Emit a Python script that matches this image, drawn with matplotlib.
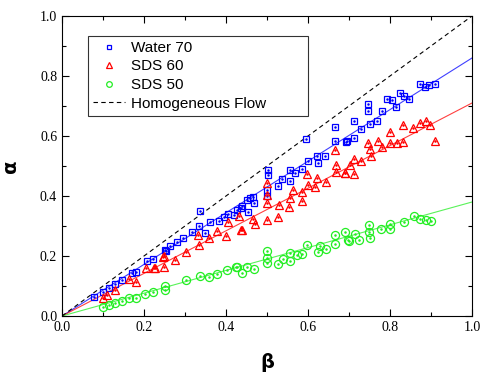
import numpy as np
import matplotlib
matplotlib.use("Agg")
import matplotlib.pyplot as plt
from matplotlib.ticker import MultipleLocator

# Water 70 (blue squares)
water_beta = [0.078, 0.10, 0.115, 0.129, 0.146, 0.171, 0.18, 0.207, 0.222, 0.254,
              0.251, 0.263, 0.28, 0.295, 0.317, 0.349, 0.334, 0.361, 0.337, 0.383,
              0.395, 0.405, 0.42, 0.427, 0.437, 0.459, 0.468, 0.454, 0.439, 0.451,
              0.466, 0.50, 0.50, 0.502, 0.502, 0.527, 0.537, 0.556, 0.556, 0.568,
              0.585, 0.60, 0.622, 0.624, 0.641, 0.595, 0.666, 0.666, 0.693, 0.695,
              0.712, 0.712, 0.729, 0.751, 0.746, 0.746, 0.768, 0.78, 0.793, 0.805,
              0.815, 0.825, 0.834, 0.846, 0.873, 0.885, 0.895, 0.91]
water_alpha = [0.063, 0.08, 0.093, 0.107, 0.12, 0.143, 0.147, 0.183, 0.19, 0.217,
               0.22, 0.233, 0.247, 0.26, 0.28, 0.277, 0.30, 0.313, 0.35, 0.317,
               0.33, 0.34, 0.337, 0.353, 0.36, 0.393, 0.377, 0.347, 0.367, 0.387,
               0.397, 0.40, 0.42, 0.47, 0.487, 0.433, 0.457, 0.45, 0.487, 0.477,
               0.49, 0.517, 0.533, 0.51, 0.533, 0.59, 0.63, 0.583, 0.58, 0.583,
               0.593, 0.65, 0.623, 0.64, 0.683, 0.707, 0.65, 0.683, 0.723, 0.72,
               0.697, 0.743, 0.733, 0.723, 0.773, 0.763, 0.77, 0.773]

# SDS 60 (red triangles)
sds60_beta = [0.10, 0.11, 0.129, 0.163, 0.18, 0.205, 0.225, 0.249, 0.227, 0.246,
              0.249, 0.276, 0.302, 0.332, 0.334, 0.359, 0.378, 0.40, 0.437, 0.405,
              0.432, 0.439, 0.466, 0.471, 0.50, 0.50, 0.50, 0.50, 0.527, 0.529,
              0.554, 0.556, 0.563, 0.585, 0.585, 0.60, 0.598, 0.617, 0.622, 0.644,
              0.666, 0.668, 0.668, 0.69, 0.69, 0.702, 0.712, 0.712, 0.729, 0.754,
              0.746, 0.751, 0.771, 0.78, 0.80, 0.817, 0.832, 0.80, 0.832, 0.856,
              0.873, 0.888, 0.898, 0.91]
sds60_alpha = [0.06, 0.07, 0.087, 0.123, 0.113, 0.16, 0.16, 0.163, 0.16, 0.197,
               0.20, 0.187, 0.213, 0.27, 0.237, 0.26, 0.283, 0.267, 0.287, 0.313,
               0.333, 0.287, 0.323, 0.307, 0.32, 0.377, 0.403, 0.443, 0.33, 0.37,
               0.363, 0.393, 0.42, 0.383, 0.413, 0.437, 0.473, 0.43, 0.46, 0.447,
               0.553, 0.503, 0.48, 0.477, 0.477, 0.503, 0.473, 0.523, 0.517, 0.533,
               0.577, 0.557, 0.583, 0.563, 0.577, 0.577, 0.58, 0.613, 0.637, 0.627,
               0.643, 0.65, 0.637, 0.583]

# SDS 50 (green circles)
sds50_beta = [0.10, 0.115, 0.129, 0.146, 0.163, 0.18, 0.202, 0.222, 0.251, 0.251,
              0.302, 0.337, 0.359, 0.378, 0.402, 0.424, 0.427, 0.439, 0.451, 0.468,
              0.50, 0.50, 0.50, 0.527, 0.539, 0.556, 0.556, 0.573, 0.585, 0.598,
              0.624, 0.629, 0.644, 0.666, 0.666, 0.69, 0.698, 0.70, 0.715, 0.724,
              0.749, 0.749, 0.751, 0.778, 0.80, 0.80, 0.834, 0.859, 0.873, 0.888,
              0.90]
sds50_alpha = [0.03, 0.037, 0.043, 0.05, 0.06, 0.06, 0.073, 0.08, 0.10, 0.087,
               0.12, 0.133, 0.13, 0.14, 0.153, 0.163, 0.163, 0.143, 0.163, 0.157,
               0.217, 0.193, 0.177, 0.173, 0.19, 0.183, 0.21, 0.203, 0.207, 0.237,
               0.213, 0.233, 0.223, 0.27, 0.24, 0.28, 0.253, 0.25, 0.273, 0.253,
               0.303, 0.28, 0.26, 0.29, 0.307, 0.29, 0.313, 0.333, 0.323, 0.32,
               0.317]

# linear fit slopes through origin
fit_slopes = {"blue": 0.86, "red": 0.71, "#22ee22": 0.38}

fig = plt.figure(figsize=(4.81, 3.76), dpi=100)
ax = fig.add_axes([62 / 481, 60 / 376, 410 / 481, 300 / 376])

xx = np.array([0.0, 1.0])
for c, k in fit_slopes.items():
    ax.plot(xx, k * xx, color=c, lw=0.8, alpha=0.75, zorder=2)
dash, = ax.plot(xx, xx, color="black", lw=0.8, ls=(0, (4, 3)), zorder=2,
                label="Homogeneous Flow")

series = [
    (water_beta, water_alpha, "s", "blue", 5.0, "Water 70"),
    (sds60_beta, sds60_alpha, "^", "red", 6.0, "SDS 60"),
    (sds50_beta, sds50_alpha, "o", "#22ee22", 5.8, "SDS 50"),
]
handles = []
for b, a, m, c, ms, lab in series:
    h, = ax.plot(b, a, ls="none", marker=m, ms=ms, mfc="none", mec=c,
                 mew=0.9, zorder=3, label=lab)
    ax.plot(b, a, ls="none", marker="o", ms=0.8, color=c, zorder=3)
    handles.append(h)

# box stretched to the width seen in the original
leg = ax.legend(handles=handles + [dash], loc="upper left",
                bbox_to_anchor=(0.063, 0.0, 0.537, 0.935), mode="expand",
                frameon=True, fancybox=False, edgecolor="black",
                handlelength=2.1, borderpad=0.35, labelspacing=0.3,
                handletextpad=0.35, borderaxespad=0, markerscale=0.7,
                prop={"family": "Liberation Sans", "size": 11})
leg.get_frame().set_linewidth(0.8)

ax.set_xlim(0, 1)
ax.set_ylim(0, 1)
ax.xaxis.set_major_locator(MultipleLocator(0.2))
ax.yaxis.set_major_locator(MultipleLocator(0.2))
ax.xaxis.set_minor_locator(MultipleLocator(0.1))
ax.yaxis.set_minor_locator(MultipleLocator(0.1))
ax.tick_params(which="both", direction="in", top=True, right=True, width=0.8)
ax.tick_params(which="major", length=5)
ax.tick_params(which="minor", length=3)
for lbl in ax.get_xticklabels() + ax.get_yticklabels():
    lbl.set_fontfamily("Liberation Serif")
    lbl.set_fontsize(10)
for s in ax.spines.values():
    s.set_linewidth(0.8)

ax.set_xlabel("β", fontsize=14, fontweight="bold", labelpad=14)
ax.set_ylabel("α", fontsize=14, fontweight="bold", labelpad=14)

fig.savefig("out.png", dpi=100)
